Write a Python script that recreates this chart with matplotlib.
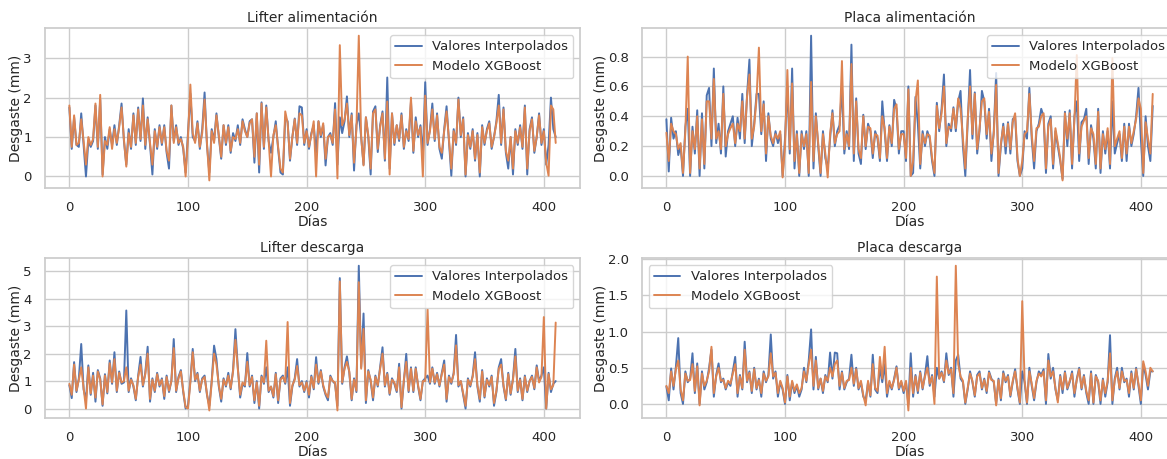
import numpy as np
import matplotlib
matplotlib.use("Agg")
import matplotlib.pyplot as plt
import seaborn as sns

# dias (cada 2 dias)
dias = np.arange(0, 411, 2)

# Lifter alimentacion
lift_alim_real = [
    1.75, 0.7, 1.5, 0.8, 0.75, 1.6, 0.8, 0.0, 0.9, 0.75,
    0.9, 1.8, 0.7, 1.95, 0.05, 1.0, 0.7, 1.2, 0.8, 1.3,
    0.8, 1.3, 1.85, 0.9, 0.3, 1.2, 0.7, 1.6, 0.8, 1.75,
    0.9, 1.98, 0.7, 1.5, 0.8, 0.05, 1.2, 0.7, 1.3, 0.8,
    1.3, 0.6, 0.2, 1.8, 0.9, 1.3, 0.8, 1.0, 0.7, 0.1,
    1.1, 2.1, 1.0, 0.9, 1.4, 0.7, 1.2, 2.13, 0.8, 0.1,
    1.2, 0.9, 1.6, 1.0, 0.45, 1.3, 0.8, 1.3, 0.6, 1.1,
    0.9, 1.3, 0.8, 1.45, 1.2, 1.0, 1.4, 1.45, 0.35, 1.6,
    0.1, 1.88, 0.7, 1.8, 0.9, 0.6, 1.0, 1.4, 0.7, 0.1,
    0.05, 1.5, 1.4, 0.4, 1.0, 1.47, 0.8, 1.78, 1.75, 0.8,
    1.2, 0.7, 1.1, 1.3, 0.6, 1.4, 1.0, 1.3, 0.28, 1.0,
    1.1, 0.8, 1.86, 0.3, 1.5, 1.1, 1.4, 2.03, 1.0, 1.6,
    0.15, 1.3, 1.6, 1.0, 0.3, 1.5, 1.0, 0.05, 1.65, 1.78,
    0.62, 1.3, 1.65, 0.4, 2.51, 0.2, 1.6, 0.8, 1.3, 0.9,
    1.6, 0.7, 1.2, 0.9, 1.9, 0.6, 1.5, 1.0, 1.3, 0.5,
    2.39, 0.8, 1.2, 1.85, 0.9, 1.6, 0.7, 0.45, 1.2, 1.78,
    0.9, 0.02, 1.2, 0.8, 2.0, 1.0, 1.5, 0.0, 1.1, 0.7,
    1.2, 0.4, 1.1, 0.0, 1.3, 0.8, 1.2, 1.4, 0.7, 1.0,
    1.4, 2.07, 0.8, 1.75, 0.6, 0.2, 1.0, 0.05, 1.2, 0.8,
    1.3, 0.7, 1.8, 0.05, 1.2, 1.5, 0.6, 1.0, 1.6, 0.8,
    1.2, 0.3, 0.8, 2.0, 1.2, 1.0,
]
lift_alim_xgb = [
    1.8, 0.75, 1.55, 0.8, 0.85, 1.45, 0.9, 0.3, 1.0, 0.8,
    0.95, 1.85, 0.75, 2.07, 0.0, 0.9, 0.8, 1.25, 0.7, 1.2,
    0.85, 1.25, 1.75, 0.95, 0.25, 1.1, 0.75, 1.55, 0.85, 1.7,
    0.95, 1.8, 0.8, 1.45, 0.85, 0.3, 1.15, 0.75, 1.25, 0.85,
    1.25, 0.65, 0.4, 1.8, 0.85, 1.25, 0.85, 0.95, 0.75, 0.0,
    1.0, 2.33, 1.1, 0.85, 1.35, 0.75, 1.1, 1.95, 0.85, -0.1,
    1.15, 0.85, 1.55, 1.05, 0.5, 1.3, 0.85, 1.25, 0.65, 1.0,
    0.95, 1.2, 0.85, 1.4, 1.15, 1.0, 1.35, 1.45, 0.5, 1.6,
    0.3, 1.85, 0.75, 1.75, 0.9, 0.0, 1.05, 1.3, 0.75, 0.2,
    0.1, 1.65, 1.35, 0.45, 1.0, 1.45, 0.85, 1.6, 1.55, 0.85,
    1.15, 0.75, 1.05, 1.4, 0.0, 1.4, 1.05, 1.35, 0.45, 1.0,
    1.05, 0.85, 1.7, -0.05, 3.33, 1.3, 1.45, 1.85, 1.05, 1.55,
    0.35, 1.2, 3.57, 1.0, 0.28, 1.5, 1.05, 0.2, 1.6, 1.7,
    0.7, 1.25, 1.6, 0.45, 1.9, 0.05, 1.6, 0.85, 1.3, 0.95,
    1.55, 0.75, 1.15, 0.95, 2.0, 0.65, 1.4, 1.05, 1.25, 0.0,
    2.05, 0.85, 1.15, 1.7, 0.95, 1.55, 0.75, 0.6, 1.15, 1.65,
    0.95, 0.2, 1.15, 0.85, 1.95, 1.05, 1.45, 0.05, 1.05, 0.75,
    1.15, 0.45, 1.05, 0.1, 1.25, 0.85, 1.15, 1.35, 0.75, 1.0,
    1.35, 1.8, 0.85, 1.7, 0.65, 0.4, 1.0, 0.2, 1.15, 0.85,
    1.25, 0.75, 1.75, 0.2, 1.15, 1.45, 0.65, 1.0, 1.55, 0.85,
    1.15, 0.35, 0.02, 1.8, 1.7, 0.85,
]

# Placa alimentacion
placa_alim_real = [
    0.38, 0.03, 0.39, 0.25, 0.3, 0.14, 0.2, 0.0, 0.33, 0.45,
    0.0, 0.33, 0.15, 0.44, 0.0, 0.42, 0.05, 0.54, 0.59, 0.2,
    0.72, 0.22, 0.35, 0.15, 0.6, 0.13, 0.3, 0.35, 0.4, 0.2,
    0.39, 0.25, 0.55, 0.22, 0.54, 0.78, 0.2, 0.35, 0.55, 0.55,
    0.28, 0.5, 0.1, 0.42, 0.25, 0.2, 0.3, 0.22, 0.28, 0.0,
    0.25, 0.6, 0.15, 0.72, 0.05, 0.3, 0.0, 0.3, 0.18, 0.3,
    0.0, 0.94, 0.05, 0.42, 0.2, 0.0, 0.3, 0.12, 0.05, 0.25,
    0.44, 0.2, 0.3, 0.34, 0.6, 0.15, 0.3, 0.18, 0.88, 0.1,
    0.52, 0.15, 0.08, 0.41, 0.18, 0.35, 0.3, 0.12, 0.3, 0.25,
    0.1, 0.5, 0.3, 0.1, 0.34, 0.2, 0.51, 0.45, 0.15, 0.3,
    0.3, 0.1, 0.6, 0.0, 0.02, 0.53, 0.35, 0.05, 0.3, 0.2,
    0.3, 0.25, 0.1, 0.0, 0.49, 0.3, 0.45, 0.68, 0.2, 0.35,
    0.3, 0.46, 0.3, 0.5, 0.57, 0.2, 0.0, 0.35, 0.71, 0.25,
    0.56, 0.15, 0.3, 0.57, 0.5, 0.25, 0.45, 0.1, 0.3, 0.69,
    0.0, 0.2, 0.35, 0.15, 0.36, 0.15, 0.38, 0.4, 0.1, 0.0,
    0.05, 0.3, 0.25, 0.59, 0.25, 0.05, 0.3, 0.35, 0.45, 0.4,
    0.02, 0.35, 0.4, 0.05, 0.3, 0.2, 0.1, -0.02, 0.43, 0.2,
    0.44, 0.05, 0.4, 0.5, 0.1, 0.36, 0.38, 0.45, 0.08, 0.34,
    0.25, 0.05, 0.45, 0.02, 0.3, 0.15, 0.3, 0.05, 0.5, 0.15,
    0.22, 0.28, 0.1, 0.35, 0.1, 0.35, 0.2, 0.28, 0.4, 0.59,
    0.25, 0.0, 0.4, 0.2, 0.1, 0.47,
]
placa_alim_xgb = [
    0.29, 0.1, 0.35, 0.3, 0.28, 0.18, 0.22, 0.02, 0.3, 0.8,
    0.02, 0.3, 0.18, 0.4, 0.05, 0.38, 0.08, 0.5, 0.5, 0.25,
    0.65, 0.25, 0.3, 0.18, 0.55, 0.2, 0.28, 0.32, 0.35, 0.22,
    0.35, 0.3, 0.5, 0.25, 0.53, 0.68, 0.25, 0.33, 0.52, 0.86,
    0.3, 0.48, 0.15, 0.4, 0.27, 0.22, 0.28, 0.25, 0.3, -0.01,
    0.2, 0.71, 0.18, 0.62, 0.1, 0.28, 0.02, 0.28, 0.2, 0.28,
    0.02, 0.63, 0.1, 0.4, 0.22, 0.02, 0.28, 0.15, -0.01, 0.28,
    0.42, 0.22, 0.28, 0.3, 0.77, 0.18, 0.28, 0.2, 0.75, 0.15,
    0.5, 0.18, 0.12, 0.4, 0.2, 0.33, 0.32, 0.15, 0.28, 0.27,
    0.12, 0.4, 0.32, 0.12, 0.33, 0.22, 0.45, 0.48, 0.18, 0.28,
    0.28, 0.12, 0.58, 0.0, 0.1, 0.5, 0.64, 0.08, 0.28, 0.22,
    0.28, 0.27, 0.12, 0.02, 0.47, 0.32, 0.42, 0.6, 0.22, 0.33,
    0.32, 0.45, 0.32, 0.52, 0.45, 0.25, 0.05, 0.38, 0.6, 0.28,
    0.55, 0.18, 0.32, 0.5, 0.52, 0.28, 0.43, 0.15, 0.28, 0.61,
    0.02, 0.22, 0.33, 0.2, 0.35, 0.18, 0.36, 0.42, 0.12, 0.0,
    0.1, 0.28, 0.3, 0.55, 0.28, 0.1, 0.32, 0.33, 0.4, 0.42,
    0.05, 0.33, 0.38, 0.08, 0.32, 0.22, 0.12, -0.03, 0.42, 0.25,
    0.42, 0.08, 0.38, 0.81, 0.15, 0.33, 0.37, 0.4, 0.12, 0.32,
    0.28, 0.08, 0.43, 0.05, 0.28, 0.18, 0.32, 0.08, 0.79, 0.2,
    0.25, 0.3, 0.12, 0.33, 0.15, 0.33, 0.22, 0.3, 0.38, 0.52,
    0.45, 0.02, 0.36, 0.25, 0.15, 0.55,
]

# Lifter descarga
lift_desc_real = [
    0.85, 0.38, 1.69, 0.6, 1.1, 2.35, 0.7, 0.3, 1.57, 0.5,
    1.3, 0.25, 1.4, 1.1, 0.1, 1.25, 0.55, 1.75, 0.9, 2.05,
    0.6, 1.35, 0.9, 0.95, 3.57, 0.6, 1.1, 0.8, 0.3, 1.2,
    1.88, 0.8, 1.3, 2.25, 0.25, 1.1, 0.6, 1.3, 0.8, 1.1,
    0.35, 1.2, 0.6, 1.0, 2.53, 0.6, 1.15, 1.4, 0.6, 0.0,
    0.1, 1.0, 2.17, 1.0, 1.3, 0.6, 1.1, 1.2, 0.5, 0.1,
    1.0, 2.29, 1.8, 0.8, 0.25, 1.1, 0.8, 1.3, 0.7, 1.4,
    2.89, 1.5, 0.4, 0.9, 0.8, 2.02, 0.8, 1.2, 0.2, 1.0,
    0.0, 1.2, 0.9, 1.5, 0.6, 0.8, 0.4, 1.3, 0.2, 1.1,
    1.2, 0.9, 1.5, 0.1, 0.8, 1.1, 1.8, 0.8, 1.0, 0.6,
    1.0, 0.4, 1.2, 0.7, 1.87, 0.9, 1.4, 0.8, 0.5, 0.3,
    1.2, 1.0, 0.9, 0.1, 4.75, 0.9, 1.5, 1.9, 1.3, 0.3,
    1.1, 0.6, 5.2, 1.5, 3.46, 0.2, 1.4, 1.0, 0.3, 1.2,
    0.8, 1.5, 2.23, 0.8, 1.3, 0.5, 1.1, 0.9, 0.6, 1.63,
    0.0, 1.0, 1.99, 0.6, 1.5, 0.6, 1.5, 0.8, 0.3, 1.0,
    1.1, 1.2, 0.9, 1.5, 0.9, 1.3, 0.8, 1.3, 1.75, 0.25,
    1.2, 0.9, 1.3, 2.68, 0.8, 1.0, 0.5, 0.0, 1.1, 0.8,
    1.2, 2.05, 0.8, 0.25, 1.4, 0.4, 1.1, 0.8, 1.2, 0.1,
    0.6, 1.5, 1.8, 0.8, 0.3, 1.3, 0.5, 1.1, 2.17, 0.6,
    1.1, 0.3, 1.2, 0.6, 1.0, 1.2, 0.7, 1.57, 1.0, 1.2,
    1.5, 0.0, 1.3, 0.6, 0.9, 1.0,
]
lift_desc_xgb = [
    0.9, 0.5, 1.6, 0.65, 1.05, 1.5, 0.75, 0.0, 1.5, 0.55,
    1.2, 0.4, 1.35, 1.05, 0.15, 1.2, 0.6, 1.65, 0.95, 1.8,
    0.65, 1.3, 0.95, 1.0, 1.5, 0.65, 1.05, 0.85, 0.35, 1.15,
    1.6, 0.85, 1.25, 2.0, 0.35, 1.05, 0.65, 1.25, 0.85, 1.05,
    0.45, 1.15, 0.65, 1.0, 2.2, 0.65, 1.1, 1.35, 0.65, 0.05,
    0.0, 0.95, 2.05, 1.05, 1.25, 0.65, 1.05, 1.15, 0.55, -0.07,
    0.95, 2.0, 1.6, 0.85, 0.35, 1.05, 0.85, 1.2, 0.75, 1.35,
    2.5, 1.45, 0.5, 0.95, 0.85, 1.7, 0.85, 1.15, 0.3, 0.95,
    0.1, 1.15, 0.95, 2.47, 0.65, 0.8, 0.45, 1.25, 0.3, 1.05,
    1.15, 0.95, 3.15, 0.2, 0.85, 1.05, 1.55, 0.85, 0.95, 0.65,
    0.95, 0.5, 1.15, 0.75, 1.6, 0.95, 1.35, 0.85, 0.55, 0.4,
    1.15, 1.0, 0.95, -0.07, 4.63, 0.95, 1.45, 1.7, 1.35, 0.35,
    1.05, 0.65, 4.6, 1.45, 2.9, 0.3, 1.35, 1.05, 0.4, 1.15,
    0.85, 1.45, 2.0, 0.85, 1.25, 0.55, 1.05, 0.95, 0.65, 1.5,
    0.05, 1.05, 1.7, 0.65, 1.45, 0.65, 1.45, 0.85, 0.35, 1.0,
    1.0, 3.61, 0.95, 1.45, 0.95, 1.25, 0.85, 1.25, 1.6, 0.35,
    1.15, 0.95, 1.25, 2.3, 0.85, 1.0, 0.55, 0.1, 1.05, 0.85,
    1.15, 1.8, 0.85, 0.35, 1.35, 0.45, 1.05, 0.85, 1.15, 0.2,
    0.65, 1.45, 1.6, 0.85, 0.35, 1.25, 0.55, 1.05, 1.9, 0.65,
    1.05, 0.35, 1.15, 0.65, 1.0, 1.15, 0.75, 1.5, 0.95, 1.15,
    3.33, 0.0, 1.25, 0.7, 0.85, 3.13,
]

# Placa descarga
placa_desc_real = [
    0.24, 0.05, 0.49, 0.2, 0.51, 0.91, 0.15, 0.0, 0.45, 0.3,
    0.35, 0.7, 0.15, 0.56, 0.0, 0.45, 0.2, 0.3, 0.5, 0.75,
    0.1, 0.4, 0.56, 0.3, 0.35, 0.2, 0.3, 0.25, 0.45, 0.65,
    0.1, 0.4, 0.2, 0.86, 0.3, 0.45, 0.15, 0.5, 0.2, 0.35,
    0.1, 0.45, 0.3, 0.4, 0.96, 0.35, 0.45, 0.1, 0.3, 0.2,
    0.0, 0.4, 0.05, 0.3, 0.15, 0.25, 0.1, 0.2, 0.5, 0.3,
    0.6, 1.03, 0.2, 0.65, 0.2, 0.35, 0.15, 0.4, 0.3, 0.71,
    0.35, 0.71, 0.7, 0.2, 0.45, 0.2, 0.3, 0.35, 0.68, 0.25,
    0.5, 0.2, 0.3, 0.1, 0.05, 0.3, 0.1, 0.68, 0.2, 0.15,
    0.5, 0.3, 0.55, 0.1, 0.3, 0.2, 0.35, 0.52, 0.2, 0.3,
    0.15, 0.3, 0.0, 0.7, 0.1, 0.4, 0.15, 0.45, 0.2, 0.4,
    0.66, 0.25, 0.4, 0.1, 0.5, 0.35, 0.45, 0.3, 0.7, 0.4,
    0.5, 0.1, 0.6, 0.68, 0.35, 0.3, 0.0, 0.2, 0.45, 0.3,
    0.1, 0.4, 0.45, 0.2, 0.35, 0.15, 0.45, 0.35, 0.3, 0.0,
    0.35, 0.05, 0.45, 0.3, 0.4, 0.1, 0.3, 0.48, 0.2, 0.0,
    0.45, 0.3, 0.0, 0.5, 0.25, 0.05, 0.3, 0.45, 0.4, 0.48,
    0.0, 0.69, 0.35, 0.5, 0.2, 0.05, 0.4, 0.15, 0.45, 0.2,
    0.3, 0.45, 0.1, 0.35, 0.5, 0.2, 0.4, 0.15, 0.0, 0.45,
    0.0, 0.4, 0.3, 0.0, 0.35, 0.1, 0.3, 0.95, 0.0, 0.35,
    0.5, 0.2, 0.5, 0.3, 0.35, 0.1, 0.45, 0.2, 0.5, 0.25,
    0.0, 0.55, 0.4, 0.2, 0.45, 0.45,
]
placa_desc_xgb = [
    0.25, 0.15, 0.45, 0.25, 0.48, 0.6, 0.2, 0.05, 0.42, 0.32,
    0.33, 0.55, 0.18, 0.52, -0.02, 0.42, 0.25, 0.32, 0.45, 0.79,
    0.15, 0.38, 0.5, 0.32, 0.33, 0.22, 0.32, 0.28, 0.42, 0.55,
    0.15, 0.38, 0.22, 0.75, 0.32, 0.43, 0.18, 0.48, 0.22, 0.33,
    0.15, 0.42, 0.32, 0.38, 0.7, 0.38, 0.43, 0.15, 0.32, 0.22,
    0.02, 0.38, 0.1, 0.32, 0.18, 0.27, 0.15, 0.22, 0.45, 0.32,
    0.55, 0.75, 0.25, 0.6, 0.22, 0.35, 0.18, 0.38, 0.32, 0.5,
    0.38, 0.55, 0.6, 0.25, 0.43, 0.22, 0.32, 0.33, 0.5, 0.28,
    0.48, 0.22, 0.32, 0.12, -0.02, 0.32, 0.12, 0.55, 0.22, 0.18,
    0.65, 0.35, 0.79, 0.15, 0.32, 0.22, 0.33, 0.5, 0.22, 0.32,
    0.18, 0.32, -0.09, 0.5, 0.15, 0.38, 0.18, 0.43, 0.22, 0.38,
    0.5, 0.28, 0.38, 0.0, 1.76, 0.35, 0.43, 0.32, 0.6, 0.42,
    0.48, 0.15, 1.91, 0.55, 0.38, 0.32, 0.02, 0.22, 0.42, 0.32,
    0.12, 0.38, 0.42, 0.22, 0.33, 0.18, 0.43, 0.33, 0.32, -0.02,
    0.33, 0.08, 0.42, 0.32, 0.38, 0.12, 0.32, 0.45, 0.22, 0.02,
    1.42, 0.32, 0.02, 0.45, 0.28, 0.08, 0.32, 0.42, 0.38, 0.45,
    0.05, 0.6, 0.38, 0.45, 0.22, 0.02, 0.38, 0.2, 0.43, 0.22,
    0.32, 0.42, 0.15, 0.33, 0.48, 0.22, 0.38, 0.18, 0.05, 0.42,
    0.02, 0.38, 0.32, 0.05, 0.33, 0.15, 0.32, 0.7, 0.05, 0.33,
    0.45, 0.22, 0.45, 0.32, 0.33, 0.15, 0.42, 0.22, 0.48, 0.28,
    0.05, 0.59, 0.45, 0.25, 0.5, 0.45,
]

titulos = ["Lifter alimentación", "Placa alimentación", "Lifter descarga", "Placa descarga"]
reales = [lift_alim_real, placa_alim_real, lift_desc_real, placa_desc_real]
modelos = [lift_alim_xgb, placa_alim_xgb, lift_desc_xgb, placa_desc_xgb]
leg_loc = ["upper right", "upper right", "upper right", "upper left"]

sns.set_theme(style="whitegrid")
plt.rcParams.update({
    "font.size": 10,
    "axes.titlesize": 10,
    "axes.labelsize": 10,
    "xtick.labelsize": 9.5,
    "ytick.labelsize": 9.5,
    "legend.fontsize": 9.5,
})

fig, axes = plt.subplots(2, 2, figsize=(11.67, 4.59), dpi=100)
for i, ax in enumerate(axes.flat):
    ax.plot(dias, reales[i], label="Valores Interpolados", linewidth=1.4)
    ax.plot(dias, modelos[i], label="Modelo XGBoost", linewidth=1.4)
    ax.set_title(titulos[i], pad=5)
    ax.set_xlabel("Días", labelpad=1)
    ax.set_ylabel("Desgaste (mm)", labelpad=0)
    ax.legend(loc=leg_loc[i])

# el panel derecho queda un poco recortado, como en la imagen original
fig.subplots_adjust(left=0.0386, right=1.0086, top=0.938, bottom=0.09,
                    wspace=0.116, hspace=0.445)
plt.savefig("out.png", dpi=100)
